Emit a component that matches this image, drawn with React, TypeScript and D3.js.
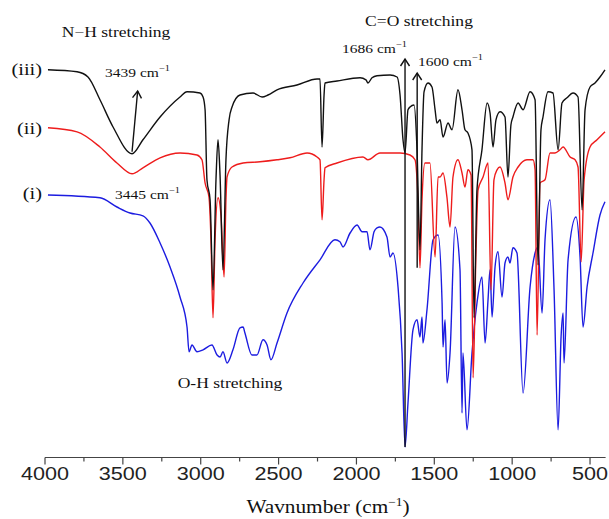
import React from 'react';
import * as d3 from 'd3';

// FTIR spectra, [wavenumber (cm-1), transmittance (a.u.)]
const seriesIII: [number, number][] = [
  [3981, 96.3], [3794, 95.8], [3724, 94.5], [3647, 88.8], [3563, 82], [3441, 75.3], [3371, 78.8],
  [3261, 84.5], [3133, 89.5], [3088, 90.8], [3005, 90.5], [2985, 89.5], [2972, 86.3], [2960, 68.8],
  [2940, 63.8], [2921, 41.3], [2902, 68.8], [2889, 78.8], [2876, 70], [2857, 46.3], [2838, 73.8],
  [2818, 83.8], [2799, 87], [2748, 90], [2664, 90.5], [2606, 89.5], [2568, 90], [2510, 91.3],
  [2382, 92.5], [2253, 94], [2234, 94], [2221, 77], [2208, 90], [2202, 93], [2125, 93.5],
  [1977, 94.3], [1939, 93.8], [1926, 93], [1900, 94.3], [1868, 94.8], [1784, 95], [1739, 94.5],
  [1720, 90], [1701, 78.8], [1688, 75.5], [1669, 86.3], [1656, 87], [1630, 87.5], [1611, 76.3],
  [1592, 51.3], [1579, 76.3], [1566, 90.8], [1540, 93], [1515, 92], [1495, 86.3], [1483, 83],
  [1463, 83.8], [1444, 79.5], [1412, 83], [1386, 81.3], [1348, 91.3], [1322, 86.3], [1303, 81.3],
  [1284, 80.5], [1258, 76.3], [1245, 34.3], [1226, 66.3], [1194, 76.3], [1161, 88], [1142, 85.5],
  [1123, 77], [1104, 83.8], [1078, 85.8], [1046, 84.5], [1027, 69.5], [1008, 82.5], [995, 84.5],
  [962, 88], [930, 86.3], [885, 90.8], [853, 88.8], [834, 47.5], [815, 81.3], [802, 84.5],
  [770, 90.8], [738, 90.5], [705, 76.3], [680, 88], [648, 89.3], [609, 90.5], [577, 89.5],
  [551, 61.3], [532, 86.3], [500, 92], [468, 93], [436, 94.5], [404, 96.3],
];

const seriesII: [number, number][] = [
  [3981, 81.8], [3794, 80.8], [3647, 77], [3538, 73], [3441, 70.3], [3371, 71.8], [3261, 74.3],
  [3133, 75.5], [3024, 75], [2992, 73.8], [2972, 68], [2947, 64.5], [2934, 53.8], [2921, 34.3],
  [2908, 53.8], [2889, 64.3], [2870, 60], [2850, 44.5], [2838, 63.8], [2831, 69.5], [2799, 72],
  [2728, 73], [2619, 73.3], [2510, 73.8], [2427, 74.3], [2317, 75.5], [2253, 74.5], [2234, 73.8],
  [2221, 58.8], [2208, 68.8], [2202, 71.8], [2125, 73], [1958, 74.5], [1926, 73.8], [1849, 75.5],
  [1720, 75.5], [1656, 75], [1624, 73.8], [1605, 63.8], [1592, 46.8], [1579, 63.8], [1560, 73],
  [1528, 73], [1495, 49.5], [1476, 69.5], [1463, 69.5], [1444, 70.5], [1419, 64.5], [1399, 57],
  [1380, 69.5], [1348, 73.8], [1322, 70.5], [1303, 67], [1284, 71.3], [1264, 70], [1251, 19.3],
  [1232, 51.3], [1219, 66.3], [1187, 69.5], [1155, 73], [1136, 41.3], [1117, 68.8], [1097, 71.3],
  [1078, 72], [1046, 68], [1027, 63.8], [995, 69.5], [962, 72], [905, 73.8], [866, 73.8],
  [853, 71.3], [840, 30], [821, 68], [789, 68.8], [757, 75.5], [725, 75.5], [693, 76.3],
  [673, 77], [628, 74.5], [596, 73.8], [577, 72], [557, 48.3], [538, 68.8], [500, 77],
  [455, 78.8], [404, 80.8],
];

const seriesI: [number, number][] = [
  [3981, 65], [3647, 64.3], [3538, 62], [3454, 60.5], [3371, 59.8], [3326, 58], [3261, 53],
  [3197, 47], [3133, 39.5], [3088, 32], [3075, 25.8], [3056, 27.5], [3024, 25.8], [2985, 26.3],
  [2928, 27.5], [2895, 25], [2876, 24.5], [2857, 25.8], [2831, 23], [2793, 26.3], [2748, 31.8],
  [2728, 32], [2716, 30.5], [2671, 25], [2639, 25], [2600, 28.8], [2574, 27.5], [2549, 23.8],
  [2510, 28], [2446, 35.5], [2343, 43], [2234, 48.8], [2138, 53.8], [2106, 53.3], [2086, 52],
  [2041, 55.5], [1996, 57.5], [1964, 55.8], [1932, 55.8], [1913, 51.3], [1887, 55.8], [1868, 56.8],
  [1849, 57], [1804, 54.5], [1784, 49.5], [1765, 50.5], [1733, 42], [1707, 25.5], [1688, 2],
  [1669, 13], [1637, 31.3], [1611, 33.8], [1592, 29.5], [1579, 34.5], [1573, 28], [1547, 36.3],
  [1508, 53.8], [1476, 55], [1450, 38], [1444, 27], [1431, 33.8], [1418, 18], [1399, 25.5],
  [1367, 57], [1335, 46.3], [1322, 10.5], [1316, 25.5], [1290, 6.3], [1258, 25.5], [1226, 38],
  [1194, 44.5], [1174, 28], [1155, 38.8], [1142, 46.3], [1129, 34.5], [1110, 47], [1091, 50.8],
  [1065, 39.5], [1046, 48], [1027, 49.5], [1014, 48], [995, 51.8], [969, 50.5], [930, 15.5],
  [885, 42], [853, 50.5], [834, 52], [808, 35.5], [789, 53.8], [757, 63.8], [731, 41.3],
  [705, 6.3], [686, 29.5], [673, 35.5], [667, 23], [641, 48.8], [590, 59.5], [564, 49.5],
  [545, 32], [519, 42], [481, 50.5], [436, 60], [404, 63.3],
];

const majorTicks = [4000, 3500, 3000, 2500, 2000, 1500, 1000, 500];
const minorTicks = [3750, 3250, 2750, 2250, 1750, 1250, 750];

const serif = '"Liberation Serif", "Times New Roman", serif';
const sans = '"Liberation Sans", Arial, sans-serif';

function Arrow({ x1, y1, x2, y2 }: { x1: number; y1: number; x2: number; y2: number }) {
  const ang = (Math.atan2(y2 - y1, x2 - x1) * 180) / Math.PI + 90;
  return (
    <g stroke="#111" strokeWidth={1.4} fill="none">
      <line x1={x1} y1={y1} x2={x2} y2={y2} />
      <path d="M-4.5,7 L0,0 L4.5,7" transform={`translate(${x2},${y2}) rotate(${ang})`} />
    </g>
  );
}

function Cm({ x, y, value }: { x: number; y: number; value: string }) {
  return (
    <text transform={`translate(${x},${y}) scale(1.15,1)`} fontFamily={serif} fontSize={13.5} fill="#111">
      {value} cm<tspan dy={-6} fontSize={9}>−1</tspan>
    </text>
  );
}

export default function App() {
  const width = 609;
  const height = 519;
  const x = d3.scaleLinear().domain([4000, 400]).range([45, 605.6]);
  const y = d3.scaleLinear().domain([0, 100]).range([455, 55]);
  const axisY = 457.5;

  const line = d3.line<[number, number]>()
    .x(d => x(d[0]))
    .y(d => y(d[1]))
    .curve(d3.curveMonotoneX);

  const series = [
    { data: seriesI, color: '#1c1ce0' },
    { data: seriesII, color: '#ee1c1c' },
    { data: seriesIII, color: '#111111' },
  ];

  const nh = seriesIII.find(d => d[0] === 3441)!;
  const co = seriesI.find(d => d[0] === 1688)!;
  const c16 = seriesII.find(d => d[0] === 1592)!;

  return (
    <svg width={width} height={height} style={{ display: 'block', position: 'absolute', left: 0, top: 0, background: '#fff' }}>
      {series.map((s, i) => (
        <path key={i} d={line(s.data) || ''} fill="none" stroke={s.color} strokeWidth={1.4} strokeLinejoin="round" />
      ))}

      {/* annotations */}
      <Arrow x1={x(nh[0])} y1={y(nh[1]) - 2} x2={x(3405)} y2={y(91)} />
      <Arrow x1={x(co[0])} y1={y(co[1])} x2={x(co[0])} y2={y(99)} />
      <Arrow x1={x(1610)} y1={y(c16[1])} x2={x(1610)} y2={y(95.5)} />

      <text transform="translate(116,37) scale(1.17,1)" fontFamily={serif} fontSize={15} fill="#111" textAnchor="middle">N−H stretching</text>
      <text transform="translate(419,26) scale(1.17,1)" fontFamily={serif} fontSize={15} fill="#111" textAnchor="middle">C=O stretching</text>
      <text transform="translate(230,388) scale(1.17,1)" fontFamily={serif} fontSize={15} fill="#111" textAnchor="middle">O-H stretching</text>

      <Cm x={105} y={77} value="3439" />
      <Cm x={115} y={199} value="3445" />
      <Cm x={342} y={53} value="1686" />
      <Cm x={418} y={66} value="1600" />

      {[['(iii)', 75], ['(ii)', 134], ['(i)', 199]].map(([t, ty]) => (
        <text key={t as string} transform={`translate(42,${ty}) scale(1.2,1)`} fontFamily={serif} fontSize={17} fill="#111" textAnchor="end">{t}</text>
      ))}

      {/* x axis */}
      <g stroke="#444" strokeWidth={1.2}>
        <line x1={x(4000)} x2={x(400)} y1={axisY} y2={axisY} />
        {majorTicks.map(t => <line key={t} x1={x(t)} x2={x(t)} y1={axisY} y2={axisY + 7} />)}
        {minorTicks.map(t => <line key={t} x1={x(t)} x2={x(t)} y1={axisY} y2={axisY + 4} />)}
      </g>
      {majorTicks.map(t => (
        <text key={t} transform={`translate(${x(t)},480) scale(1.2,1)`} fontFamily={sans} fontSize={18} fill="#222" textAnchor="middle">{t}</text>
      ))}
      <text transform="translate(328,513) scale(1.12,1)" fontFamily={serif} fontSize={19} fill="#111" textAnchor="middle">
        Wavnumber (cm<tspan dy={-7} fontSize={12}>−1</tspan><tspan dy={7}>)</tspan>
      </text>
    </svg>
  );
}
